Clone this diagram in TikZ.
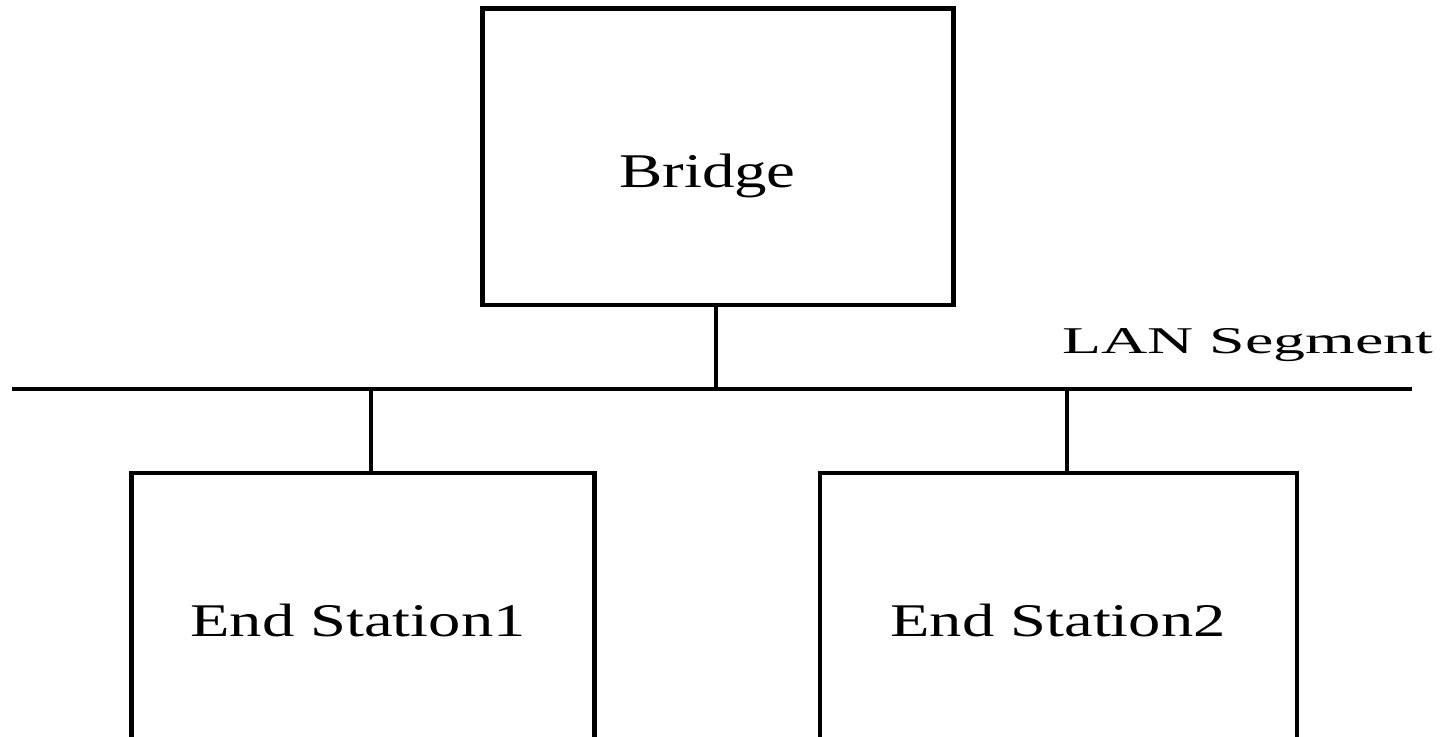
\documentclass[tikz,border=0pt]{standalone}
\usepackage{fontspec}
\usepackage{graphicx}
\setmainfont{Liberation Serif}
\begin{document}
\begin{tikzpicture}[x=0.5pt,y=-0.5pt,
  box/.style={draw,line width=2.3pt,rectangle,inner sep=0pt,outer sep=0pt},
  bus/.style={line width=1.8pt},
  drop/.style={line width=1.7pt},
  lbl/.style={anchor=base,inner sep=0pt}]
\path[use as bounding box] (0,0) rectangle (1446,736);
\clip (0,0) rectangle (1446,736);
% devices
\node[box,minimum width=235.75pt,minimum height=148.25pt] (bridge) at (718,156.75) {};
\node[box,minimum width=231.5pt,minimum height=163.5pt] (es1) at (363,636.5) {};
\node[box,minimum width=238.5pt,minimum height=163.5pt] (es2) at (1058.5,636.5) {};
% labels
\node[lbl] (bridgetext) at (707.5,187) {\fontsize{24.2}{26}\selectfont\scalebox{1.34}[1]{Bridge}};
\node[lbl] (es1text) at (358,636) {\fontsize{23.4}{26}\selectfont\scalebox{1.38}[1]{End Station1}};
\node[lbl] (es2text) at (1058,636) {\fontsize{23.4}{26}\selectfont\scalebox{1.38}[1]{End Station2}};
\node[lbl] (lantext) at (1248,353) {\fontsize{18.9}{20}\selectfont\scalebox{1.69}[1]{LAN Segment}};
% shared segment and its taps
\coordinate (lanL) at (12,389);
\coordinate (lanR) at (1412,389);
\coordinate (tapB) at (716,389);
\coordinate (tap1) at (371,389);
\coordinate (tap2) at (1067,389);
\draw[bus] (lanL) -- (lanR);
\draw[drop] (bridge.south -| tapB) -- (tapB);
\draw[drop] (tap1) -- (es1.north -| tap1);
\draw[drop] (tap2) -- (es2.north -| tap2);
\end{tikzpicture}
\end{document}
